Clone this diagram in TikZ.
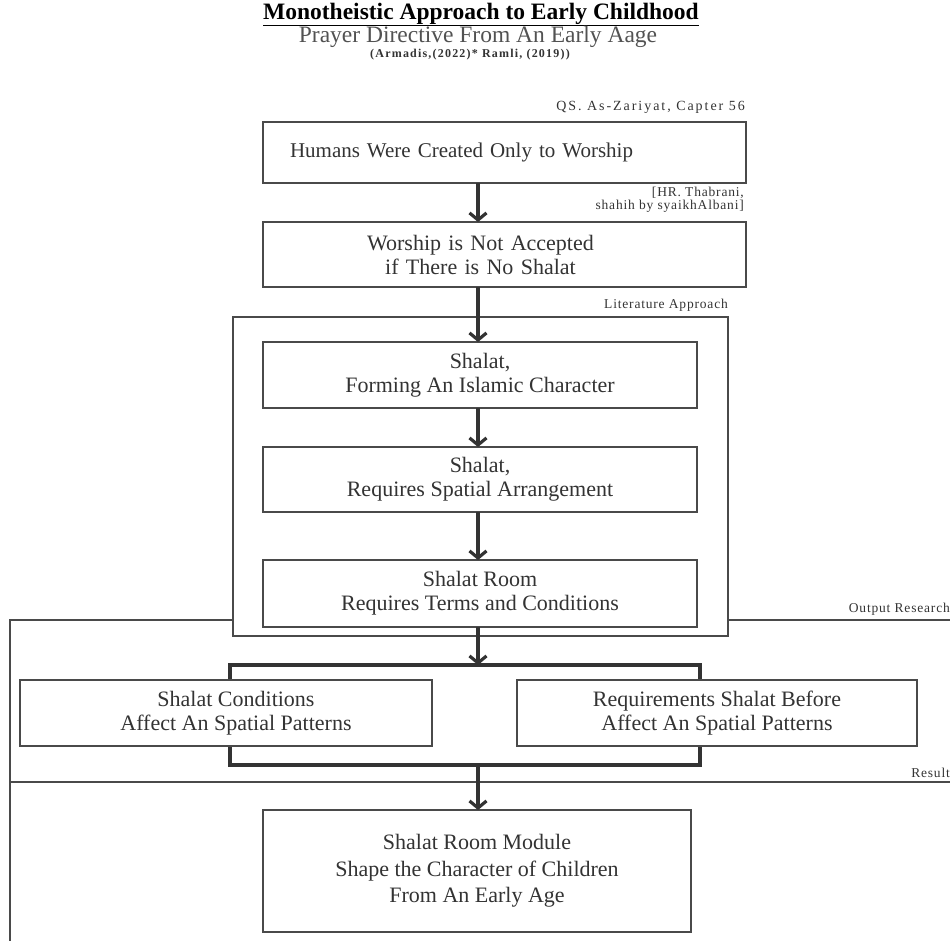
\documentclass[tikz,border=0pt]{standalone}
\usepackage{fontspec}
\setmainfont{Liberation Serif}
\usetikzlibrary{arrows.meta, positioning, calc}

\definecolor{inkgray}{HTML}{333333}
\definecolor{framegray}{HTML}{4A4A4A}

\begin{document}
\begin{tikzpicture}[
		x=1pt, y=-1pt,
		box/.style={
				draw=framegray, line width=1.3pt, fill=white, text=inkgray,
				align=center, inner sep=0pt, outer sep=0pt,
				font=\fontsize{22}{24}\selectfont
			},
		note/.style={text=inkgray, inner sep=0pt, align=right,
				font=\fontsize{13.5}{13}\selectfont\addfontfeature{LetterSpace=6}},
		flow/.style={draw=inkgray, line width=3.2pt,
				-{Straight Barb[length=7pt, width=17pt]}},
		frame/.style={draw=framegray, line width=1.2pt}
	]
	\useasboundingbox (0,0) rectangle (950,940);
	\coordinate (spine) at (478,0);

	\node [text=black, font=\fontsize{23.5}{26}\selectfont\bfseries] (title) at (481,14.5) {\underline{Monotheistic Approach to Early Childhood}};
	\node [text=inkgray!85, font=\fontsize{23.5}{26}\selectfont] (subtitle) at (478,37) {Prayer Directive From An Early Aage};
	\node [note, font=\fontsize{12}{13}\selectfont\bfseries\addfontfeature{LetterSpace=10}] (cite) at (470,55) {(Armadis,(2022)* Ramli, (2019))};

	\node [note, anchor=south east, font=\fontsize{14}{13}\selectfont\addfontfeature{LetterSpace=14}] (qs) at (745,114) {QS. As-Zariyat, Capter 56};
	\node [box, minimum width=483pt, minimum height=61pt, text width=429pt, align=left, font=\fontsize{21}{24}\selectfont] (b1) at (504.5,152.5) {Humans Were Created Only to Worship};

	\node [note, anchor=east] (hr) at (744,200) {[HR. Thabrani,\\ shahih by syaikhAlbani]};
	\node [box, minimum width=483pt, minimum height=65pt, text width=483pt] (b2) at (504.5,254.5) {\hspace*{-48pt}Worship is Not Accepted\\ \hspace*{-48pt}if There is No Shalat};

	\draw [frame] (952,620) -- (10,620) -- (10,942);
	\draw [frame] (10,782) -- (952,782);
	\node [note, anchor=south east] (out) at (950,616) {Output Research};
	\node [note, anchor=south east] (res) at (950,778) {Result};

	\draw [frame, fill=white] (233,317) rectangle (728,636);
	\node [note, anchor=south east] (lit) at (728,312) {Literature Approach};

	\node [box, minimum width=434pt, minimum height=66pt] (b3) at (480,375) {Shalat,\\ Forming An Islamic Character};
	\node [box, minimum width=434pt, minimum height=65pt] (b4) at (480,479.5) {Shalat,\\ Requires Spatial Arrangement};
	\node [box, minimum width=434pt, minimum height=67pt] (b5) at (480,593.5) {Shalat Room\\ Requires Terms and Conditions};

	\coordinate (split) at (478,665);
	\coordinate (join) at (478,765);
	\draw [draw=inkgray, line width=3.2pt] (230,665) rectangle (700,765);

	\node [box, minimum width=412pt, minimum height=66pt] (c1) at (226,713) {\hspace*{20pt}Shalat Conditions\\ \hspace*{20pt}Affect An Spatial Patterns};
	\node [box, minimum width=400pt, minimum height=66pt] (c2) at (717,713) {Requirements Shalat Before\\ Affect An Spatial Patterns};

	\node [box, minimum width=428pt, minimum height=122pt, font=\fontsize{22}{26.5}\selectfont] (b6) at (477,871) {Shalat Room Module\\ Shape the Character of Children\\ From An Early Age};

	\draw [flow] (b1.south -| spine) -- (b2.north -| spine);
	\draw [flow] (b2.south -| spine) -- (b3.north -| spine);
	\draw [flow] (b3.south -| spine) -- (b4.north -| spine);
	\draw [flow] (b4.south -| spine) -- (b5.north -| spine);
	\draw [flow] (b5.south -| spine) -- (split);
	\draw [flow] (join) -- (b6.north -| spine);
\end{tikzpicture}
\end{document}
